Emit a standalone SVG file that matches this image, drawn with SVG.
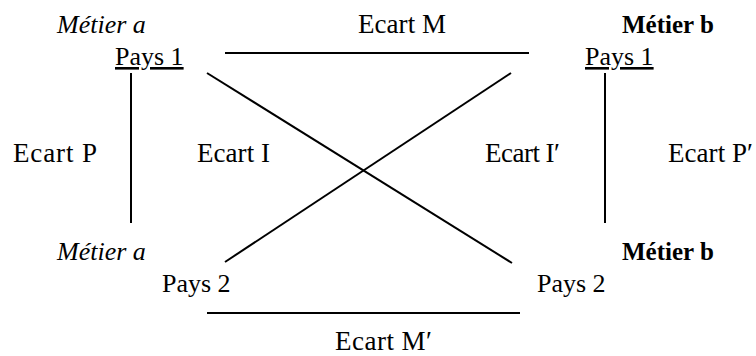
<svg xmlns="http://www.w3.org/2000/svg" width="756" height="356" viewBox="0 0 756 356">
<style>
.t{font-family:"Liberation Serif","Times New Roman",serif;font-size:26px;fill:#000}
.it{font-style:italic}
.b{font-weight:bold;font-size:25px}
.u{text-decoration:underline}
.e{font-family:"Liberation Serif","Times New Roman",serif;font-size:27px;fill:#000}
.c line{stroke:#000;stroke-width:2;fill:none}
</style>
<rect width="756" height="356" fill="#fff"/>
<g id="a1">
<text class="t it" x="57" y="33">Métier a</text>
<text class="t u" x="115" y="65">Pays 1</text>
</g>
<g id="b1">
<text class="t b" x="622" y="33">Métier b</text>
<text class="t u" x="585" y="65">Pays 1</text>
</g>
<g id="a2">
<text class="t it" x="57" y="260">Métier a</text>
<text class="t" x="162" y="292">Pays 2</text>
</g>
<g id="b2">
<text class="t b" x="622" y="260">Métier b</text>
<text class="t" x="537" y="292">Pays 2</text>
</g>
<g id="connectors" class="c">
<line x1="225" y1="53" x2="529" y2="53"/>
<line x1="207" y1="73" x2="512" y2="263"/>
<line x1="511" y1="73" x2="225" y2="262"/>
<line x1="131" y1="73" x2="131" y2="223"/>
<line x1="605" y1="73" x2="605" y2="223"/>
<line x1="207" y1="313" x2="520" y2="313"/>
</g>
<g id="labels">
<text class="e" x="358" y="33" textLength="88">Ecart M</text>
<text class="e" x="13" y="162" textLength="84">Ecart P</text>
<text class="e" x="197" y="162" textLength="73">Ecart I</text>
<text class="e" x="485" y="162" textLength="75">Ecart I′</text>
<text class="e" x="668" y="162" textLength="85">Ecart P′</text>
<text class="e" x="335" y="350" textLength="97">Ecart M′</text>
</g>
</svg>
